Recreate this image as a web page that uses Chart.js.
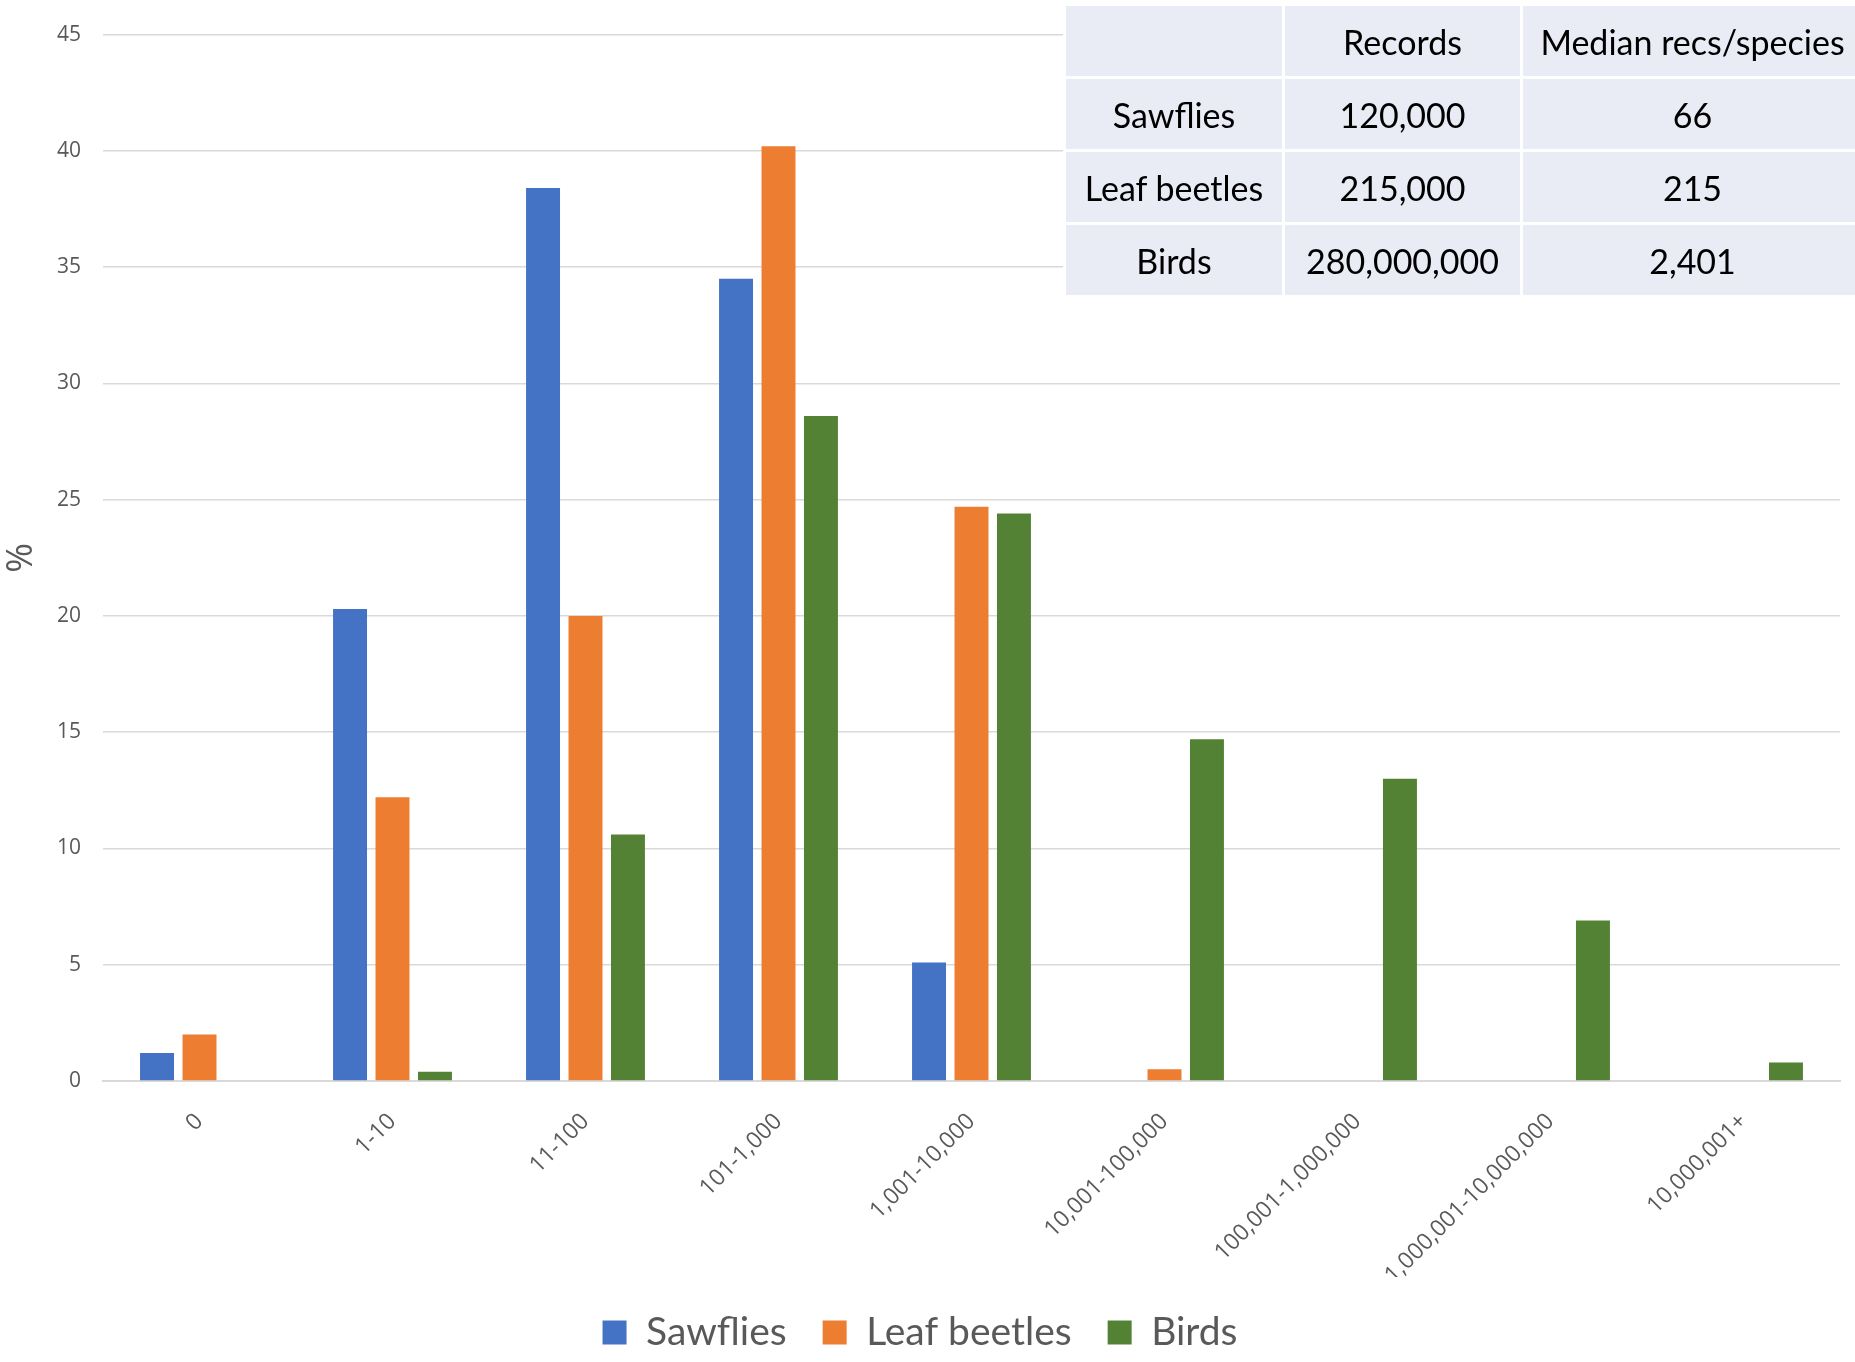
<!DOCTYPE html>
<html>
<head>
<meta charset="utf-8">
<script src="https://cdn.jsdelivr.net/npm/chart.js@4"></script>
<style>
  html, body { margin: 0; padding: 0; background: #fff; }
  #wrap { position: relative; width: 1855px; height: 1362px; }
  #summary {
    position: absolute; left: 1063px; top: 3px; width: 790px;
    border-collapse: collapse; font-family: Lato, "Noto Sans", sans-serif;
    font-size: 34px; color: #000; table-layout: fixed;
  }
  #summary td {
    background: #e9ebf5; border: 3px solid #fff; text-align: center;
    padding: 0; height: 70px;
  }
</style>
</head>
<body>
<div id="wrap">
  <canvas id="recordsChart"></canvas>
  <table id="summary"></table>
</div>
<script>
// bins of records per species
const categories = ['0', '1-10', '11-100', '101-1,000', '1,001-10,000', '10,001-100,000',
  '100,001-1,000,000', '1,000,001-10,000,000', '10,000,001+'];

// % of species in each bin
const sawflies = [1.2, 20.3, 38.4, 34.5, 5.1, 0, 0, 0, 0];
const leafBeetles = [2.0, 12.2, 20.0, 40.2, 24.7, 0.5, 0, 0, 0];
const birds = [0, 0.4, 10.6, 28.6, 24.4, 14.7, 13.0, 6.9, 0.8];

// summary table
const tableHeader = ['', 'Records', 'Median recs/species'];
const tableGroups = ['Sawflies', 'Leaf beetles', 'Birds'];
const tableRecords = ['120,000', '215,000', '280,000,000'];
const tableMedians = ['66', '215', '2,401'];

function buildTable() {
  const t = document.getElementById('summary');
  const rows = [tableHeader];
  tableGroups.forEach((g, i) => rows.push([g, tableRecords[i], tableMedians[i]]));
  const widths = ['216px', '235px', '339px'];
  t.innerHTML = rows.map(r =>
    '<tr>' + r.map((c, j) => '<td style="width:' + widths[j] + '">' + c + '</td>').join('') + '</tr>'
  ).join('');
}

function createRecordsChart() {
  const ctx = document.getElementById('recordsChart');

  new Chart(ctx, {
    type: 'bar',
    data: {
      labels: categories,
      datasets: [
        { label: 'Sawflies', data: sawflies, backgroundColor: '#4472c4' },
        { label: 'Leaf beetles', data: leafBeetles, backgroundColor: '#ed7d31' },
        { label: 'Birds', data: birds, backgroundColor: '#548235' }
      ]
    },
    options: {
      responsive: true,
      maintainAspectRatio: false,
      animation: false,
      datasets: {
        bar: {
          barPercentage: 0.8,
          categoryPercentage: 0.66
        }
      },
      layout: {
        padding: { top: 20, right: 15, left: 0, bottom: 0 }
      },
      plugins: {
        tooltip: { enabled: false },
        legend: {
          display: true,
          position: 'bottom',
          labels: {
            boxWidth: 24,
            boxHeight: 24,
            padding: 36,
            color: '#595959',
            font: { family: 'Lato', size: 39 }
          }
        }
      },
      scales: {
        y: {
          min: 0,
          max: 45,
          border: { display: false },
          grid: {
            color: '#d9d9d9',
            lineWidth: 1.5,
            drawTicks: false
          },
          afterFit: (scale) => { scale.width = 103; },
          ticks: {
            stepSize: 5,
            padding: 22,
            color: '#595959',
            font: { family: 'Open Sans', size: 21 }
          },
          title: {
            display: true,
            text: '%',
            color: '#595959',
            padding: { top: 0, bottom: 4 },
            font: { family: 'Open Sans', size: 36 }
          }
        },
        x: {
          border: { display: true, color: '#d9d9d9', width: 2 },
          grid: { display: false },
          afterFit: (scale) => { scale.height = 196; },
          ticks: {
            maxRotation: 45,
            minRotation: 45,
            padding: 19,
            color: '#595959',
            font: { family: 'Open Sans', size: 23 }
          }
        }
      }
    }
  });
}

buildTable();
createRecordsChart();
</script>
</body>
</html>
